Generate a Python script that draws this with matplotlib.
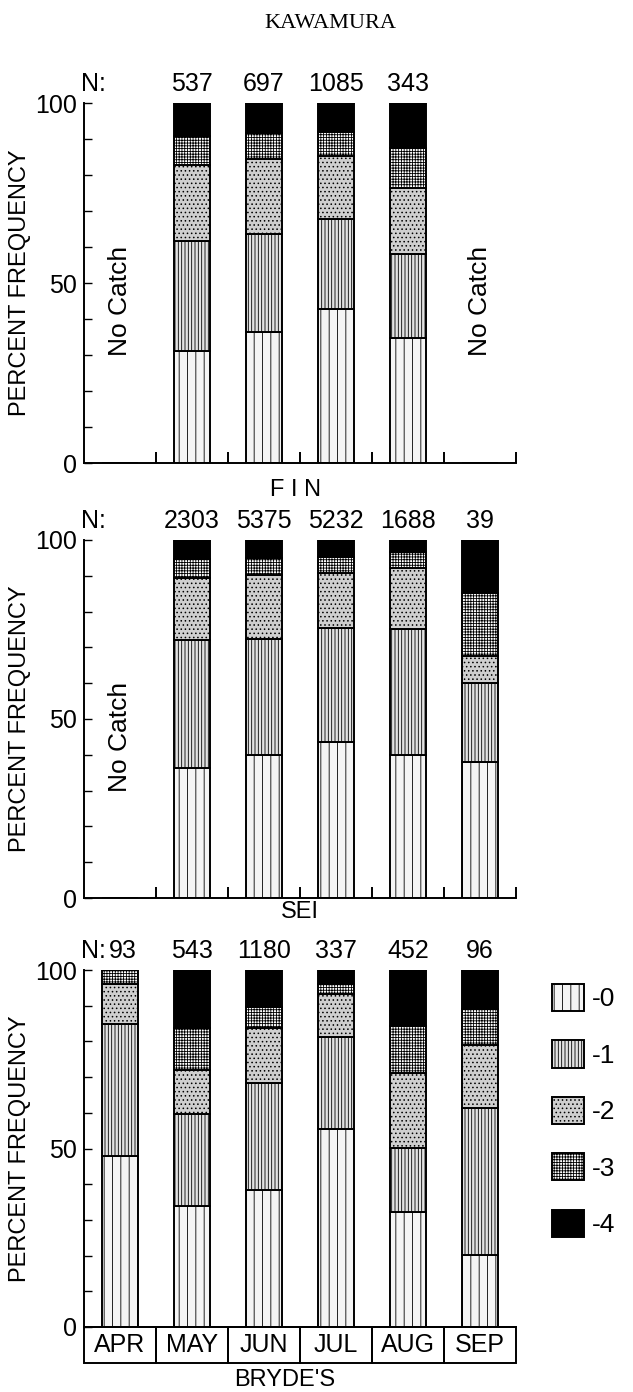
import matplotlib
matplotlib.use("Agg")
import matplotlib.pyplot as plt
from matplotlib.patches import Patch, Rectangle

plt.rcParams['font.family'] = ['Liberation Sans', 'DejaVu Sans']
plt.rcParams['hatch.linewidth'] = 0.6

#
# data (percent per maturity class 0..4, months APR..SEP)
#
months = ['APR', 'MAY', 'JUN', 'JUL', 'AUG', 'SEP']
classes = ['-0', '-1', '-2', '-3', '-4']

fin_n = [None, 537, 697, 1085, 343, None]
fin_pct = [
    [0, 31.2, 36.5, 42.8, 34.6, 0],
    [0, 30.5, 27.0, 25.1, 23.4, 0],
    [0, 21.2, 21.0, 17.3, 18.5, 0],
    [0, 7.9, 7.2, 6.7, 11.0, 0],
    [0, 9.2, 8.3, 8.1, 12.5, 0],
]
fin_nocatch = [0, 5]

sei_n = [None, 2303, 5375, 5232, 1688, 39]
sei_pct = [
    [0, 36.3, 40.0, 43.7, 40.0, 38.1],
    [0, 35.8, 32.3, 31.6, 35.1, 21.9],
    [0, 17.2, 17.9, 15.4, 17.2, 7.7],
    [0, 5.3, 4.7, 4.5, 4.4, 17.6],
    [0, 5.4, 5.1, 4.8, 3.3, 14.7],
]
sei_nocatch = [0]

bry_n = [93, 543, 1180, 337, 452, 96]
bry_pct = [
    [48.0, 33.8, 38.5, 55.5, 32.1, 20.3],
    [36.8, 26.0, 29.9, 25.8, 18.1, 41.1],
    [11.2, 12.2, 15.4, 11.9, 21.0, 17.5],
    [4.0, 11.8, 5.9, 2.8, 13.1, 10.3],
    [0, 16.2, 10.3, 4.0, 15.7, 10.8],
]
bry_nocatch = []

faces = ['#f4f4f4', '#e2e2e2', '#cfcfcf', 'white', 'black']
hatches = ['||', '|||||', '....', '++++++', None]

fs = 17
nfs = 18

#
# plot
#
fig = plt.figure(figsize=(6.33, 13.92), dpi=100)
W, H = 633.0, 1392.0


def panel(y100, y0, pct, nvals, nocatch, title, tx, ty, bottom=False):
    ax = fig.add_axes([84 / W, 1 - y0 / H, 432 / W, (y0 - y100) / H])
    x = list(range(len(months)))
    base = [0.0] * len(months)
    for k in range(5):
        ax.bar(x, pct[k], 0.5, bottom=base, color=faces[k], hatch=hatches[k],
               edgecolor='black', linewidth=1.4, zorder=2)
        base = [b + v for b, v in zip(base, pct[k])]
    ax.set_xlim(-0.5, 5.5)
    ax.set_ylim(0, 100)
    for s in ['top', 'right']:
        ax.spines[s].set_visible(False)
    ax.spines['left'].set_linewidth(1.4)
    ax.spines['bottom'].set_linewidth(1.4)
    ax.set_yticks([0, 50, 100])
    ax.set_yticklabels(['0', '50', '100'], fontsize=nfs)
    ax.set_yticks(range(0, 101, 10), minor=True)
    ax.tick_params(axis='y', which='both', direction='in', length=6, width=1, pad=5)
    if bottom:
        ax.set_xticks([])
        for i, m in enumerate(months):
            ax.add_patch(Rectangle((i - 0.5, -10.2), 1, 10.2, fill=False,
                                   edgecolor='black', linewidth=1.4, clip_on=False))
            ax.text(i, -5.1, m, ha='center', va='center', fontsize=18, clip_on=False)
    else:
        ax.set_xticks([0.5, 1.5, 2.5, 3.5, 4.5, 5.5])
        ax.set_xticklabels([])
        ax.tick_params(axis='x', direction='in', length=8, width=1.4)
    ax.set_ylabel('PERCENT FREQUENCY', fontsize=fs, labelpad=3)
    ax.text(-0.54, 102, 'N:', ha='left', va='bottom', fontsize=nfs, clip_on=False)
    for i, n in enumerate(nvals):
        if n is not None:
            ax.text(i + (0.04 if i == 0 else 0), 102, str(n), ha='center', va='bottom',
                    fontsize=nfs, clip_on=False)
    for i in nocatch:
        ax.text(i, 45, 'No Catch', rotation=90, ha='center', va='center', fontsize=19)
    fig.text(tx / W, 1 - ty / H, title, ha='center', va='center', fontsize=fs)
    return ax


panel(103, 463, fin_pct, fin_n, fin_nocatch, 'F I N', 296, 490)
panel(540, 898, sei_pct, sei_n, sei_nocatch, 'SEI', 300, 912)
ax3 = panel(970, 1327, bry_pct, bry_n, bry_nocatch, "BRYDE'S", 285, 1380, bottom=True)

handles = [Patch(facecolor=faces[k], hatch=hatches[k], edgecolor='black', linewidth=1.4)
           for k in range(5)]
fig.legend(handles, classes, loc='upper left', bbox_to_anchor=(552 / W, 1 - 984 / H),
           frameon=False, fontsize=19, handlelength=1.2, handleheight=1.2,
           labelspacing=1.1, handletextpad=0.3, borderpad=0, borderaxespad=0)

fig.text(330 / W, 1 - 23 / H, 'KAWAMURA', ha='center', va='center', fontsize=16,
         family=['Liberation Serif', 'DejaVu Serif'])

plt.savefig('out.png')
plt.close()
